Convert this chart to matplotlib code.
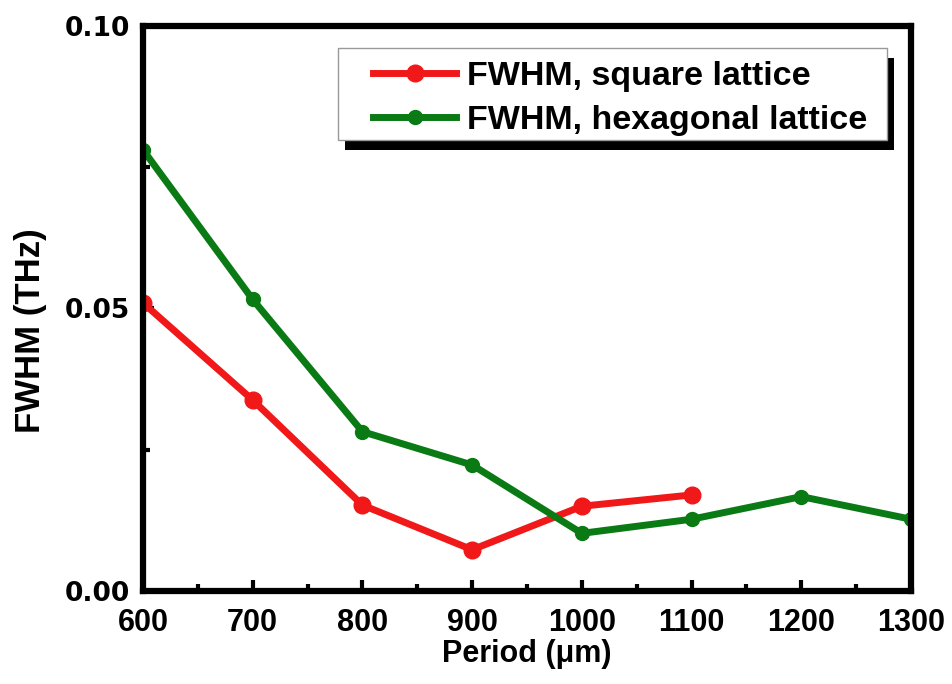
import matplotlib
matplotlib.use("Agg")
import matplotlib.pyplot as plt
from matplotlib.ticker import MultipleLocator
from matplotlib.patches import Rectangle
from matplotlib.transforms import IdentityTransform

# data
period_sq = [600, 700, 800, 900, 1000, 1100]
fwhm_sq = [0.0510, 0.0338, 0.0152, 0.0073, 0.0150, 0.0170]
period_hex = [600, 700, 800, 900, 1000, 1100, 1200, 1300]
fwhm_hex = [0.0781, 0.0516, 0.0282, 0.0223, 0.0102, 0.0127, 0.0167, 0.0127]

plt.rcParams['font.family'] = ['Liberation Sans', 'DejaVu Sans']
plt.rcParams['font.weight'] = 'bold'

fig = plt.figure(figsize=(9.53, 6.84), dpi=100)
ax = fig.add_axes([0.150, 0.136, 0.806, 0.826])

ax.plot(period_sq, fwhm_sq, '-o', color='#f01818', lw=5, ms=12,
        label='FWHM, square lattice')
ax.plot(period_hex, fwhm_hex, '-o', color='#0a7a14', lw=5, ms=10,
        label='FWHM, hexagonal lattice')

ax.set_xlim(600, 1300)
ax.set_ylim(0, 0.10)
ax.xaxis.set_major_locator(MultipleLocator(100))
ax.xaxis.set_minor_locator(MultipleLocator(50))
ax.yaxis.set_major_locator(MultipleLocator(0.05))
ax.yaxis.set_minor_locator(MultipleLocator(0.025))
ax.yaxis.set_major_formatter(lambda v, p: f"{v:.2f}")

for s in ax.spines.values():
    s.set_linewidth(4.5)
ax.tick_params(which='both', direction='in', width=3, top=False, right=False)
ax.tick_params(which='major', length=8)
ax.tick_params(which='minor', length=5)
ax.tick_params(axis='x', which='major', pad=12)
ax.tick_params(axis='y', which='major', pad=9)
for lab in ax.get_xticklabels():
    lab.set_fontsize(22)
    lab.set_fontweight('bold')
for lab in ax.get_yticklabels():
    lab.set_family('DejaVu Sans')
    lab.set_fontsize(19)
    lab.set_fontweight('bold')

ax.set_xlabel('Period (μm)', fontsize=22, fontweight='bold', labelpad=1)
ax.set_ylabel('FWHM (THz)', fontsize=25, fontweight='bold')
ax.yaxis.set_label_coords(-0.125, 0.46)

leg = ax.legend(loc='upper left', bbox_to_anchor=(373 / 953, 1 - 61 / 684),
                bbox_transform=fig.transFigure, fontsize=24.5, frameon=False,
                handlelength=2.45, borderpad=0, borderaxespad=0,
                labelspacing=0.38, handletextpad=0.3)

# legend box with a solid black drop shadow
fig.canvas.draw()
bb = leg.get_window_extent(fig.canvas.get_renderer())
x0, y0 = bb.x0 - 35, bb.y0 - 4
w, h = bb.width + 35 + 20, bb.height + 4 + 13
shadow = Rectangle((x0 + 7, y0 - 10), w, h, transform=IdentityTransform(),
                   facecolor='black', edgecolor='none', zorder=4.8)
box = Rectangle((x0, y0), w, h, transform=IdentityTransform(),
                facecolor='white', edgecolor='#999999', lw=1, zorder=4.9)
ax.add_artist(shadow)
ax.add_artist(box)

fig.savefig('out.png', dpi=100)
